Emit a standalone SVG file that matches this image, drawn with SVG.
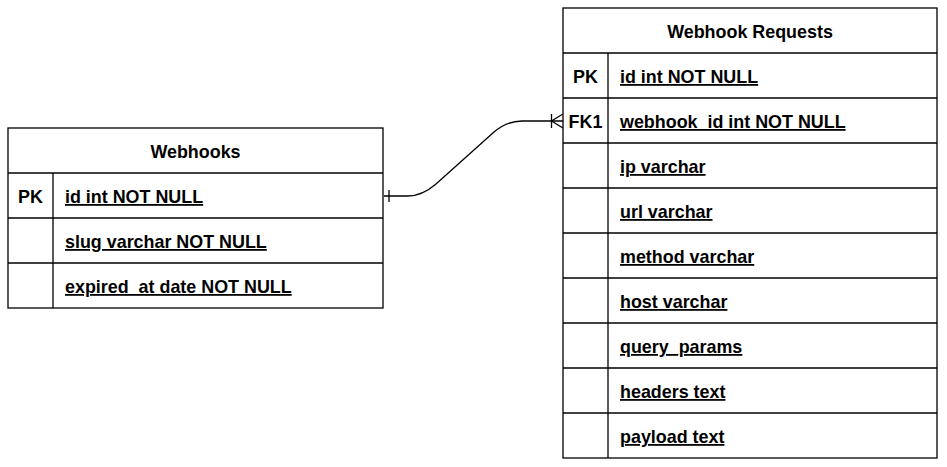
<svg xmlns="http://www.w3.org/2000/svg" width="947" height="467" viewBox="0 0 947 467">
<style>
.box{fill:#fff;stroke:#000;stroke-width:1.3}
.ln{stroke:#000;stroke-width:1.3;fill:none}
.h{font-family:"Liberation Sans",Arial,sans-serif;font-weight:bold;font-size:17.9px;text-anchor:middle}
.k{font-family:"Liberation Sans",Arial,sans-serif;font-weight:bold;font-size:17.9px;text-anchor:middle}
.f{font-family:"Liberation Sans",Arial,sans-serif;font-weight:bold;font-size:17.9px;text-decoration:underline}
</style>
<rect width="947" height="467" fill="#fff"/>
<g id="webhooks">
<rect class="box" x="8" y="128" width="375" height="180"/>
<line class="ln" x1="8" y1="173" x2="383" y2="173"/>
<line class="ln" x1="8" y1="218" x2="383" y2="218"/>
<line class="ln" x1="8" y1="263" x2="383" y2="263"/>
<line class="ln" x1="53" y1="173" x2="53" y2="308"/>
<text class="h" x="195.5" y="158">Webhooks</text>
<text class="k" x="30.5" y="203">PK</text>
<text class="f" x="65" y="203">id int NOT NULL</text>
<text class="f" x="65" y="248">slug varchar NOT NULL</text>
<text class="f" x="65" y="293">expired_at date NOT NULL</text>
</g>
<g id="webhook-requests">
<rect class="box" x="563" y="8" width="374" height="450"/>
<line class="ln" x1="563" y1="53" x2="937" y2="53"/>
<line class="ln" x1="563" y1="98" x2="937" y2="98"/>
<line class="ln" x1="563" y1="143" x2="937" y2="143"/>
<line class="ln" x1="563" y1="188" x2="937" y2="188"/>
<line class="ln" x1="563" y1="233" x2="937" y2="233"/>
<line class="ln" x1="563" y1="278" x2="937" y2="278"/>
<line class="ln" x1="563" y1="323" x2="937" y2="323"/>
<line class="ln" x1="563" y1="368" x2="937" y2="368"/>
<line class="ln" x1="563" y1="413" x2="937" y2="413"/>
<line class="ln" x1="608" y1="53" x2="608" y2="458"/>
<text class="h" x="750" y="38">Webhook Requests</text>
<text class="k" x="585.5" y="83">PK</text>
<text class="k" x="585.5" y="128">FK1</text>
<text class="f" x="620" y="83">id int NOT NULL</text>
<text class="f" x="620" y="128">webhook_id int NOT NULL</text>
<text class="f" x="620" y="173">ip varchar</text>
<text class="f" x="620" y="218">url varchar</text>
<text class="f" x="620" y="263">method varchar</text>
<text class="f" x="620" y="308">host varchar</text>
<text class="f" x="620" y="353">query_params</text>
<text class="f" x="620" y="398">headers text</text>
<text class="f" x="620" y="443">payload text</text>
</g>
<g id="connectors">
<path class="ln" d="M384,196 L408,196 Q422,196 436,184 L494,132 Q507,121 522,121 L563,121"/>
<line class="ln" x1="389" y1="190" x2="389" y2="202"/>
<line class="ln" x1="551.5" y1="114" x2="551.5" y2="128"/>
<path class="ln" d="M563,114 L551.5,121 L563,128"/>
</g>
</svg>
